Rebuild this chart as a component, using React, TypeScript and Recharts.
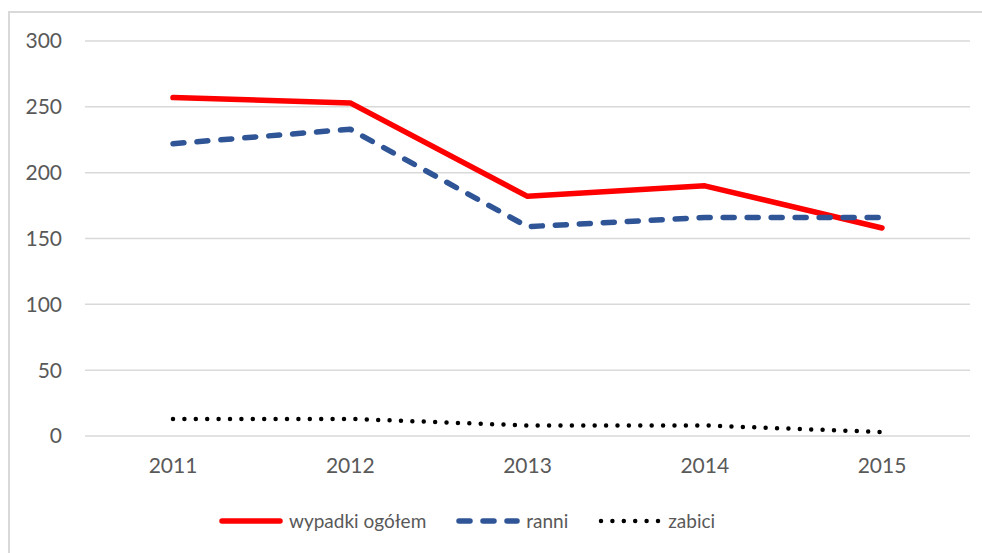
import { CartesianGrid, Line, LineChart, XAxis, YAxis } from "recharts";

const YEARS = ["2011", "2012", "2013", "2014", "2015"];
const WYPADKI = [257, 253, 182, 190, 158];
const RANNI = [222, 233, 159, 166, 166];
const ZABICI = [13, 13, 8, 8, 3];
const Y_TICKS = [0, 50, 100, 150, 200, 250, 300];

const data = YEARS.map((year, i) => ({
  year,
  wypadki: WYPADKI[i],
  ranni: RANNI[i],
  zabici: ZABICI[i],
}));

const FONT = "Lato, 'Open Sans', sans-serif";
const TEXT = "#595959";

const SERIES = [
  { key: "wypadki", name: "wypadki ogółem", color: "#ff0000", dash: undefined, width: 5.5 },
  { key: "ranni", name: "ranni", color: "#2f5597", dash: "11 13", width: 5.5 },
  { key: "zabici", name: "zabici", color: "#000000", dash: "0 11.4", width: 4.5 },
];

// legend drawn as plain html under the plot, like the excel original
function ChartLegend() {
  return (
    <div
      style={{
        position: "absolute",
        left: 219,
        top: 509,
        display: "flex",
        alignItems: "center",
        fontFamily: FONT,
        fontSize: 19,
        color: TEXT,
        whiteSpace: "nowrap",
      }}
    >
      {SERIES.map((s, i) => (
        <div key={s.key} style={{ display: "flex", alignItems: "center", marginLeft: i === 0 ? 0 : 30 }}>
          <svg width={64} height={12} style={{ marginRight: 6 }}>
            <line
              x1={3}
              y1={6}
              x2={61}
              y2={6}
              stroke={s.color}
              strokeWidth={s.width}
              strokeDasharray={s.dash}
              strokeLinecap="round"
            />
          </svg>
          <span>{s.name}</span>
        </div>
      ))}
    </div>
  );
}

export default function App() {
  return (
    <div style={{ position: "absolute", left: 0, top: 0, width: 982, height: 553, background: "#fff", overflow: "hidden" }}>
      <style>{"body{margin:0;overflow:hidden}"}</style>
      <div
        style={{
          position: "absolute",
          left: 8,
          top: 11,
          width: 990,
          height: 560,
          borderTop: "2px solid #d9d9d9",
          borderLeft: "2px solid #d9d9d9",
        }}
      />
      <div style={{ position: "absolute", left: 0, top: 0 }}>
        <LineChart width={982} height={553} data={data} margin={{ top: 41, right: 12, bottom: 87, left: 0 }}>
          <CartesianGrid vertical={false} stroke="#d9d9d9" strokeWidth={1.5} />
          <XAxis
            dataKey="year"
            height={30}
            padding={{ left: 88, right: 88 }}
            axisLine={false}
            tickLine={false}
            tickSize={0}
            tickMargin={22}
            tick={{ fill: TEXT, fontSize: 21, fontFamily: FONT }}
          />
          <YAxis
            domain={[0, 300]}
            ticks={Y_TICKS}
            width={85}
            axisLine={false}
            tickLine={false}
            tickSize={0}
            tickMargin={23}
            tick={{ fill: TEXT, fontSize: 21, fontFamily: FONT }}
          />
          {SERIES.map((s) => (
            <Line
              key={s.key}
              type="linear"
              dataKey={s.key}
              name={s.name}
              stroke={s.color}
              strokeWidth={s.width}
              strokeDasharray={s.dash}
              strokeLinecap="round"
              strokeLinejoin="round"
              dot={false}
              activeDot={false}
              isAnimationActive={false}
            />
          ))}
        </LineChart>
      </div>
      <ChartLegend />
    </div>
  );
}
